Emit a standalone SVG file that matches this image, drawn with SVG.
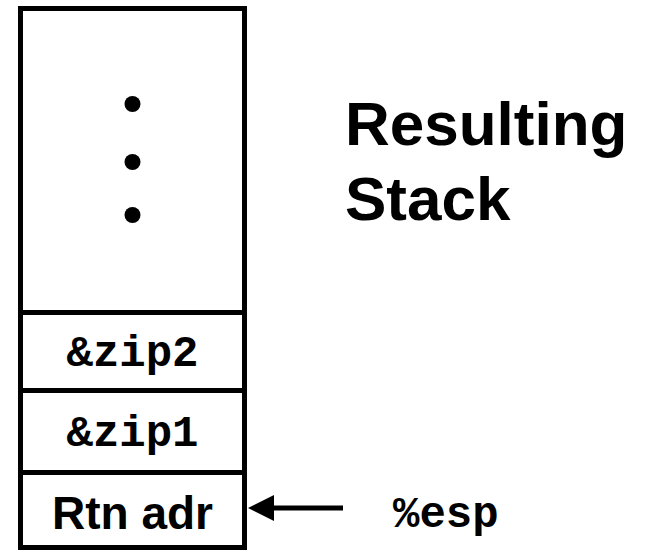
<svg xmlns="http://www.w3.org/2000/svg" width="654" height="551" viewBox="0 0 654 551">
<defs>
<style>
.box{fill:#fff;stroke:#000;stroke-width:5}
.mono{font-family:"Liberation Mono","Courier New",monospace;font-weight:bold;font-size:44px;fill:#000}
.sans{font-family:"Liberation Sans",Arial,sans-serif;font-weight:bold;fill:#000}
.conn{stroke:#000;stroke-width:5;fill:none}
</style>
<marker id="ah" markerUnits="userSpaceOnUse" markerWidth="28" markerHeight="28" refX="0" refY="13" orient="auto-start-reverse" viewBox="0 0 28 26">
<path d="M0,0 L26,13 L0,26 Z" fill="#000"/>
</marker>
</defs>
<rect width="654" height="551" fill="#fff"/>
<g id="stack">
<rect class="box" x="20.5" y="8.5" width="224" height="539"/>
</g>
<g id="cell-dots">
<circle cx="132.5" cy="104" r="8"/>
<circle cx="132.5" cy="162" r="8"/>
<circle cx="132.5" cy="215" r="8"/>
</g>
<g id="cell-zip2">
<line class="conn" x1="20.5" y1="312.5" x2="244.5" y2="312.5"/>
<text class="mono" x="132.5" y="366" text-anchor="middle">&amp;zip2</text>
</g>
<g id="cell-zip1">
<line class="conn" x1="20.5" y1="390.5" x2="244.5" y2="390.5"/>
<text class="mono" x="132.5" y="446" text-anchor="middle">&amp;zip1</text>
</g>
<g id="cell-rtn">
<line class="conn" x1="20.5" y1="472.5" x2="244.5" y2="472.5"/>
<text class="sans" x="132.5" y="529" font-size="46" text-anchor="middle">Rtn adr</text>
</g>
<g id="title">
<text class="sans" x="345" y="145" font-size="62">Resulting</text>
<text class="sans" x="345" y="220" font-size="62">Stack</text>
</g>
<g id="esp">
<text class="mono" x="393" y="527">%esp</text>
</g>
<g id="connectors">
<line class="conn" x1="343" y1="508" x2="274" y2="508" marker-end="url(#ah)"/>
</g>
</svg>
